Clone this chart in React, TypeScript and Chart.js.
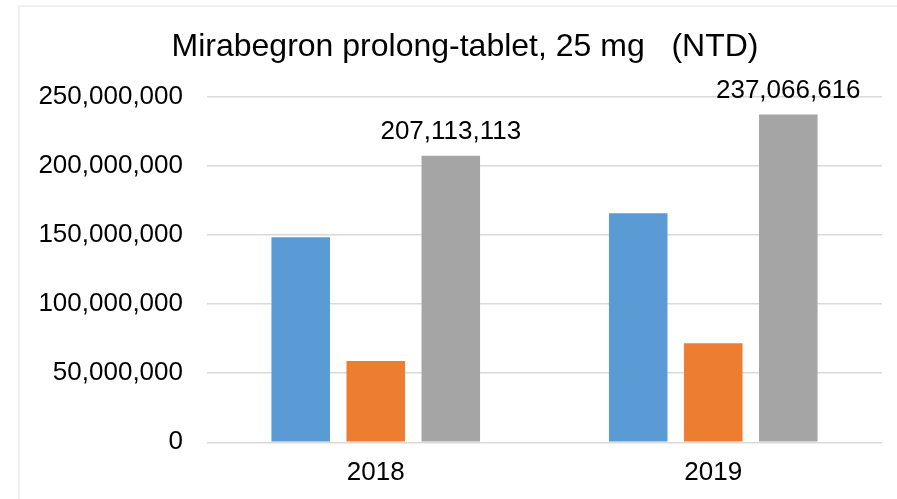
import React, { useEffect, useRef } from "react";
import { Chart, registerables } from "chart.js";

Chart.register(...registerables);

const categories = ["2018", "2019"];
const seriesA = [148200000, 165600000];
const seriesB = [58800000, 71600000];
const seriesC = [207113113, 237066616];
const yTicks = [0, 50000000, 100000000, 150000000, 200000000, 250000000];
const titleText = "Mirabegron prolong-tablet, 25 mg   (NTD)";

const FONT = "'Liberation Sans', Arial, sans-serif";

const labelPlugin = {
  id: "grayLabels",
  afterDatasetsDraw(chart: any) {
    const ctx = chart.ctx;
    const meta = chart.getDatasetMeta(2);
    ctx.save();
    ctx.font = `26px ${FONT}`;
    ctx.fillStyle = "#000000";
    ctx.textAlign = "center";
    ctx.textBaseline = "bottom";
    meta.data.forEach((bar: any, i: number) => {
      const v = seriesC[i];
      ctx.fillText(v.toLocaleString("en-US"), bar.x, bar.y - 11);
    });
    ctx.restore();
  },
};

const titlePlugin = {
  id: "customTitle",
  afterDraw(chart: any) {
    const ctx = chart.ctx;
    ctx.save();
    ctx.font = `32px ${FONT}`;
    ctx.fillStyle = "#000000";
    ctx.textAlign = "center";
    ctx.textBaseline = "middle";
    ctx.fillText(titleText, 465, 47);
    ctx.restore();
  },
};

export default function App() {
  const ref = useRef<HTMLCanvasElement>(null);
  useEffect(() => {
    if (!ref.current) return;
    const chart = new Chart(ref.current, {
      type: "bar",
      data: {
        labels: categories,
        datasets: [
          { label: "A", data: seriesA, backgroundColor: "#5b9bd5", categoryPercentage: 0.667, barPercentage: 0.78 },
          { label: "B", data: seriesB, backgroundColor: "#ed7d31", categoryPercentage: 0.667, barPercentage: 0.78 },
          { label: "C", data: seriesC, backgroundColor: "#a5a5a5", categoryPercentage: 0.667, barPercentage: 0.78 },
        ],
      },
      options: {
        responsive: false,
        animation: false,
        layout: { padding: { left: 0, right: 15, top: 96.5, bottom: 12.7 } },
        plugins: {
          legend: { display: false },
          tooltip: { enabled: false },
          title: { display: false },
        },
        scales: {
          x: {
            grid: { display: false },
            border: { display: false },
            afterFit: (s: any) => {
              s.height = 44;
            },
            ticks: { color: "#000000", font: { family: FONT, size: 26 }, padding: 7 },
          },
          y: {
            min: 0,
            max: 250000000,
            afterBuildTicks: (s: any) => {
              s.ticks = yTicks.map((v) => ({ value: v }));
            },
            afterFit: (s: any) => {
              s.width = 207;
            },
            grid: { color: "#d9d9d9", lineWidth: 1.5, drawTicks: false },
            border: { display: false },
            ticks: {
              color: "#000000",
              font: { family: FONT, size: 26 },
              padding: 24,
              callback: (v: any) => Number(v).toLocaleString("en-US"),
            },
          },
        },
      },
      plugins: [labelPlugin, titlePlugin],
    });
    return () => chart.destroy();
  }, []);
  return (
    <div style={{ position: "absolute", left: 0, top: 0, width: 897, height: 499, background: "#ffffff", overflow: "hidden" }}>
      <canvas ref={ref} width={897} height={499} style={{ display: "block", position: "absolute", left: 0, top: 0 }} />
      <div
        style={{
          position: "absolute",
          left: 18,
          top: 5,
          width: 900,
          height: 520,
          borderLeft: "2px solid #efefef",
          borderTop: "2px solid #efefef",
          pointerEvents: "none",
        }}
      />
    </div>
  );
}
